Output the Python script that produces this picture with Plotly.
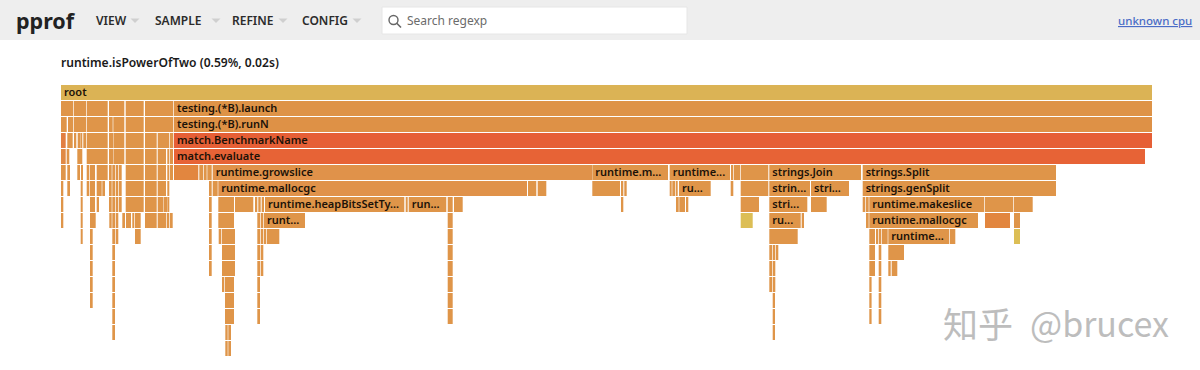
import plotly.graph_objects as go

# Flame graph frames per depth: (start, width) in sample units (total weight 1091)
row0 = [(0, 1091)]
row1 = [(0, 12.3), (13, 12), (25.7, 21), (48, 15.3), (64.7, 18), (84, 28.3), (113, 978)]
row2 = [(0, 5.7), (7, 5.3), (13, 12), (25.7, 21), (48, 3.7), (52.3, 11), (64.7, 18), (84, 28.3), (113, 978)]
row3 = [(0, 4.7), (6.3, 5.4), (13, 2.3), (16.7, 2.3), (19.3, 2), (22.3, 2.7), (25.7, 21), (48, 4.3), (52.6, 10.7),
        (64.7, 18), (84, 11.7), (96.7, 11.6), (109, 3.3), (113, 978)]
row4 = [(0, 4.7), (5.7, 2.6), (16.3, 2.7), (19.7, 1.6), (25.7, 21), (48, 4.3), (52.6, 10.7), (64.7, 18), (84, 11.7),
        (96.7, 8.3), (106.3, 2), (109, 3), (113, 971)]
row5 = [(0, 4.7), (6.3, 2.7), (16.3, 2.7), (20, 1.3), (25.7, 2.6), (29, 5), (35.7, 11), (48, 2.7), (51.3, 2.7),
        (54.7, 2.6), (58, 2.7), (64.7, 18), (84, 11.7), (96.7, 8.3), (106.3, 2), (109, 3), (113, 24.3), (138.3, 4),
        (143, 2.7), (146.3, 4.4), (151.7, 379.3), (531.3, 75.7), (608.7, 60.3), (670, 2.3), (673, 6), (679.7, 27.6),
        (708.3, 91.7), (801.7, 193.3)]
row6 = [(0, 2.3), (6.3, 2.7), (19.7, 2), (25.7, 2.6), (29, 5), (35.7, 5), (41.3, 2.7), (48, 2.7), (51.3, 2.7),
        (54.7, 2.6), (58, 2.7), (64.7, 18), (84, 11.7), (96.7, 8.3), (106.3, 2), (148, 2.7), (151.7, 5),
        (157.3, 308.7), (467, 8.3), (476.7, 8.6), (531.3, 27.7), (560, 2.3), (563.3, 2.4), (608.7, 2), (611.3, 2.7),
        (614.7, 2), (618, 31.7), (669.7, 2.6), (679.7, 27.6), (708.3, 40.7), (750, 38), (801.7, 193.3)]
row7 = [(0, 2.3), (19.7, 2), (29, 5), (35.7, 2.3), (48, 2.7), (51.3, 2.7), (54.7, 2.6), (58, 2.7), (64.7, 18),
        (84, 11.7), (96.7, 5.6), (102.7, 3.3), (106.3, 2), (148, 2.7), (157.3, 15.7), (174, 18.3), (194, 2.3),
        (197.3, 2.4), (200.7, 2.3), (204, 139.3), (344.7, 2), (347.7, 37.6), (386.7, 5), (393, 8.7), (560, 2.3),
        (615, 2.7), (618.3, 5.7), (625, 2.3), (679.7, 18.3), (708.3, 38), (750, 15.7), (801.7, 2.6), (805, 2.7),
        (808.3, 115), (924, 28.3), (953, 18.7)]
row8 = [(0, 2.3), (19.7, 2), (29, 5.7), (48.3, 2.4), (51.3, 2.7), (54.7, 2.6), (61.3, 2.7), (65, 5), (71.3, 2),
        (74, 5.7), (84, 11.7), (96.7, 8.3), (105.7, 2.6), (109, 2.7), (148, 2.7), (157.3, 15.7), (196.3, 2.7),
        (199.7, 2.6), (203, 41), (386.7, 5), (679.7, 12), (708.3, 31.4), (740.7, 2.3), (805, 2.7), (808.3, 108.7),
        (924, 25), (953, 6)]
row9 = [(19.7, 2), (29, 2.7), (51.3, 2.7), (54.7, 2.6), (74, 5.7), (148, 2.7), (157.7, 2.6), (161, 13), (196.3, 2.7),
        (199.7, 2.6), (203, 2), (205.7, 12.6), (386.7, 5), (708.3, 28.4), (808.3, 5.7), (815, 2), (817.7, 2.6),
        (821, 5.7), (827.3, 60.7), (888.7, 5.6), (953, 6)]
row10 = [(29, 2.7), (51.3, 2.7), (148, 2.7), (161, 13), (196.3, 2.7), (199.7, 2.6), (386.7, 5), (708.3, 2.7),
         (711.7, 2.6), (715, 2.3), (808.3, 5.7), (817.7, 2.6), (827.3, 15.7)]
row11 = [(29, 2.7), (51.3, 2.7), (148, 2.7), (161, 13), (196.3, 2.7), (199.7, 2.6), (386.7, 5), (708.3, 2.7),
         (711.7, 2.6), (808.3, 5.7), (817.7, 2.6), (827.3, 2.4), (830.7, 5.6)]
row12 = [(29, 2.7), (51.3, 2.7), (161, 2.3), (164, 9), (196.3, 2.7), (386.7, 5), (708.3, 2.7), (711.7, 2.6),
         (808.3, 2.3), (817.7, 2.6)]
row13 = [(29, 2.7), (51.3, 2.7), (164, 9), (196.3, 2.7), (386.7, 5), (711.7, 2.3), (808.3, 2.3), (817.7, 2.6)]
row14 = [(51.3, 2.7), (164, 9), (196.3, 2.7), (386.7, 5), (711.7, 2.3), (808.3, 2.3), (817.7, 2.6)]
row15 = [(51.3, 2.7), (164.3, 2.4), (167.3, 2.7), (711.7, 2.3)]
row16 = [(164.3, 2.4), (167.3, 2.7)]
frames_by_row = [row0, row1, row2, row3, row4, row5, row6, row7, row8, row9, row10, row11, row12, row13, row14, row15, row16]

frame_labels = {
    (0, 0): "root", (1, 113): "testing.(*B).launch", (2, 113): "testing.(*B).runN",
    (3, 113): "match.BenchmarkName", (4, 113): "match.evaluate",
    (5, 151.7): "runtime.growslice", (5, 531.3): "runtime.m...", (5, 608.7): "runtime...",
    (5, 708.3): "strings.Join", (5, 801.7): "strings.Split",
    (6, 157.3): "runtime.mallocgc", (6, 618): "ru...", (6, 708.3): "strin...", (6, 750): "stri...",
    (6, 801.7): "strings.genSplit",
    (7, 204): "runtime.heapBitsSetTy...", (7, 347.7): "run...", (7, 708.3): "stri...",
    (7, 808.3): "runtime.makeslice",
    (8, 203): "runt...", (8, 708.3): "ru...", (8, 808.3): "runtime.mallocgc",
    (9, 827.3): "runtime...",
}

COLOR_BASE = "#DF9549"
COLOR_ROOT = "#DBB355"
COLOR_YELLOW = "#DCBE55"
COLOR_DARK = "#E2863F"
frame_colors = {
    (0, 0): COLOR_ROOT,
    (1, 113): "#DE9347", (2, 113): "#DE9146",
    (3, 113): "#E65F36", (4, 113): "#E76336",
    (3, 0): "#E27F42", (4, 0): "#E08A45",
    (5, 113): COLOR_DARK, (8, 924): COLOR_DARK,
    (5, 151.7): "#E0924A", (6, 157.3): "#E0924A",
    (8, 679.7): COLOR_YELLOW, (9, 953): COLOR_YELLOW,
}

title_text = "runtime.isPowerOfTwo (0.59%, 0.02s)"
menu_items = ["VIEW", "SAMPLE", "REFINE", "CONFIG"]

# Canvas mapping: sample 0 sits 61 px from the left edge, depth 0 is centred 92.5 px from the top
W, H = 1200, 370
LEFT_OFFSET = 61
ROW_PX = 16
TOP_OFFSET = 92.5

ys, bases, widths, colors = [], [], [], []
lab_x, lab_y, lab_t = [], [], []
for depth, row in enumerate(frames_by_row):
    for start, width in row:
        ys.append(depth)
        bases.append(start)
        widths.append(width)
        colors.append(frame_colors.get((depth, start), COLOR_BASE))
        if (depth, start) in frame_labels:
            lab_x.append(start + 3)
            lab_y.append(depth + 0.06)
            lab_t.append(frame_labels[(depth, start)])

UI_FONT = "Noto Sans, Open Sans, sans-serif"

fig = go.Figure()
fig.add_trace(go.Bar(y=ys, x=widths, base=bases, orientation="h", marker=dict(color=colors, line=dict(width=0)),
                     width=15 / 16, hoverinfo="skip", showlegend=False))
fig.add_trace(go.Scatter(x=lab_x, y=lab_y, text=lab_t, mode="text", textposition="middle right",
                         textfont=dict(family=UI_FONT, size=11, color="#1c1208", weight=600),
                         hoverinfo="skip", showlegend=False))


def px(x):
    return x / W


def py(y):
    return 1 - y / H


shapes = [
    dict(type="rect", xref="paper", yref="paper", x0=0, x1=1, y0=py(40), y1=py(0), fillcolor="#EEEEEE",
         line_width=0, layer="below"),
    dict(type="rect", xref="paper", yref="paper", x0=px(382), x1=px(687), y0=py(34), y1=py(7), fillcolor="#FFFFFF",
         line=dict(color="#E6E6E6", width=1), layer="below"),
    dict(type="circle", xref="paper", yref="paper", x0=px(389), x1=px(398), y0=py(24.5), y1=py(15.5),
         line=dict(color="#666666", width=1.4)),
    dict(type="line", xref="paper", yref="paper", x0=px(396.5), x1=px(401), y0=py(23), y1=py(27.5),
         line=dict(color="#666666", width=1.6)),
]
for cx in (135, 216, 283, 357):
    shapes.append(dict(type="path", xref="paper", yref="paper",
                       path=f"M {px(cx-4.5)} {py(18.5)} L {px(cx+4.5)} {py(18.5)} L {px(cx)} {py(23)} Z",
                       fillcolor="#CFCFCF", line_width=0))

annotations = []


def note(text, x, y, size, color="#222222", weight=400, family=UI_FONT, anchor="left"):
    annotations.append(dict(text=text, x=px(x - 2), y=py(y), xref="paper", yref="paper", xanchor=anchor, yanchor="middle",
                            showarrow=False, font=dict(family=family, size=size, color=color, weight=weight),
                            align="left"))


note("pprof", 16, 20, 21.5, "#222222", 700)
for item, mx in zip(menu_items, (96, 155, 232, 302)):
    note(item, mx, 21, 12, "#2b2b2b", 600)
note("Search regexp", 407, 21, 12, "#6b6b6b", 400)
note("<u>unknown cpu</u>", 1118, 21, 11.5, "#4A6CC7", 500)
note(title_text, 61, 62, 12.1, "#1a1a1a", 600)
note("知乎", 943, 322, 35, "#BDBDBD", 400, "Noto Sans CJK SC, Noto Sans")
note("@brucex", 1030, 322, 34, "#BDBDBD", 400, "Noto Sans CJK SC, Noto Sans")

fig.update_layout(
    width=W, height=H, margin=dict(l=0, r=0, t=0, b=0), paper_bgcolor="#FFFFFF", plot_bgcolor="rgba(0,0,0,0)",
    barmode="overlay", showlegend=False, shapes=shapes, annotations=annotations,
    xaxis=dict(range=[-LEFT_OFFSET, W - LEFT_OFFSET], visible=False, fixedrange=True),
    yaxis=dict(range=[(H - TOP_OFFSET) / ROW_PX, -TOP_OFFSET / ROW_PX], visible=False, fixedrange=True),
)
fig.write_html("out.html", config=dict(displayModeBar=False), post_script="document.body.style.margin='0';")
